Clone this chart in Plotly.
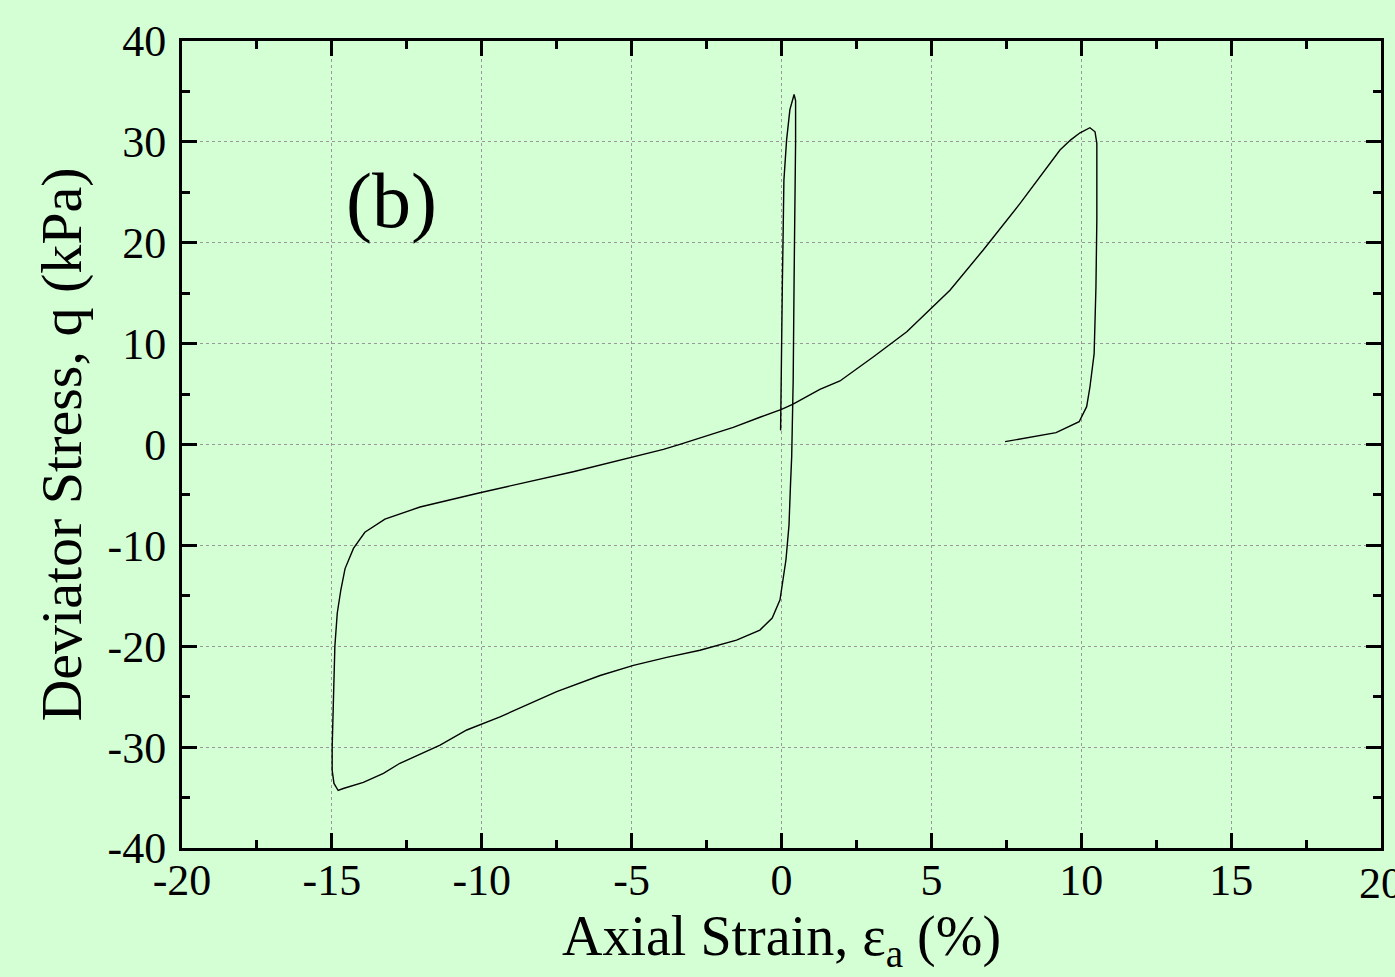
import plotly.graph_objects as go

# Axial strain (%) and deviator stress (kPa)
strain = [-0.03, -0.02, 0.0, 0.03, 0.05, 0.08, 0.17, 0.28, 0.42, 0.47, 0.47, 0.45, 0.42,
          0.39, 0.37, 0.34, 0.30, 0.25, 0.15, 0.06, -0.05, -0.31, -0.72, -1.5, -2.72,
          -3.83, -4.94, -6.05, -7.5, -9.39, -10.5, -11.39, -12.73, -13.28, -13.95, -14.62,
          -14.79, -14.93, -14.99, -14.99, -14.95, -14.9, -14.82, -14.7, -14.56, -14.28,
          -13.9, -13.23, -12.06, -10.06, -6.95, -5.05, -3.94, -3.39, -1.61, -0.72, 0.0,
          0.37, 1.28, 1.95, 3.07, 4.18, 4.95, 5.62, 6.73, 7.96, 9.29, 9.65, 9.96, 10.29,
          10.46, 10.52, 10.52, 10.49, 10.43, 10.29, 10.18, 9.93, 9.16, 7.46]
stress = [1.4, 5.0, 10.0, 16.3, 20.0, 26.2, 30.2, 33.2, 34.7, 34.1, 30.0, 26.2, 16.3,
          6.4, 3.0, -1.2, -4.0, -8.0, -11.4, -13.4, -15.4, -17.2, -18.4, -19.4, -20.4,
          -21.1, -21.9, -22.9, -24.5, -27.0, -28.3, -29.8, -31.6, -32.6, -33.5, -34.1,
          -34.3, -33.6, -32.3, -30.0, -25.0, -20.0, -16.7, -14.4, -12.3, -10.3,
          -8.7, -7.4, -6.2, -4.78, -2.7, -1.27, -0.48, 0.02, 1.7, 2.7, 3.49,
          3.98, 5.47, 6.3, 8.7, 11.18, 13.33, 15.3, 19.28, 23.9, 29.19, 30.2, 30.9, 31.4,
          31.0, 29.85, 22.25, 15.6, 9.0, 5.7, 3.75, 2.26, 1.17, 0.28]

x_ticks = [-20, -15, -10, -5, 0, 5, 10, 15, 20]
y_ticks = [-40, -30, -20, -10, 0, 10, 20, 30, 40]

BG = "#D4FFD4"
FONT = "Liberation Serif, Times New Roman, serif"

fig = go.Figure()
fig.add_trace(go.Scatter(x=strain, y=stress, mode="lines",
                         line=dict(color="black", width=1.4), showlegend=False,
                         hoverinfo="skip"))

axis_common = dict(
    showline=True, linecolor="black", linewidth=3, mirror="allticks",
    ticks="inside", ticklen=15, tickwidth=2.5, tickcolor="black",
    showgrid=True, gridcolor="#999999", griddash="dot", gridwidth=1.2,
    zeroline=False,
    tickfont=dict(family=FONT, size=44, color="black"),
)

fig.update_xaxes(
    range=[-20, 20], tickvals=x_ticks[:-1], ticktext=[str(v) for v in x_ticks[:-1]],
    minor=dict(dtick=2.5, ticks="inside", ticklen=8, tickwidth=2.5, tickcolor="black", showgrid=False),
    title=dict(text="Axial Strain, ε<sub>a</sub> (%)", font=dict(family=FONT, size=56, color="black"),
               standoff=0),
    ticklabelstandoff=-9,
    **axis_common,
)
fig.update_yaxes(
    range=[-40, 40], tickvals=y_ticks, ticktext=[str(v) for v in y_ticks],
    minor=dict(dtick=5, ticks="inside", ticklen=8, tickwidth=2.5, tickcolor="black", showgrid=False),
    title=dict(text="Deviator Stress, q (kPa)", font=dict(family=FONT, size=58, color="black"),
               standoff=8),
    ticklabelstandoff=4,
    **axis_common,
)

# last x tick label, partly cut by the page edge as in the reference
fig.add_annotation(x=x_ticks[-1], y=0, xref="x", yref="paper", yanchor="top", xanchor="center",
                   yshift=-9, text=str(x_ticks[-1]), showarrow=False,
                   font=dict(family=FONT, size=44, color="black"))

fig.add_annotation(x=-13.0, y=24.2, xref="x", yref="y", text="(b)", showarrow=False,
                   font=dict(family=FONT, size=78, color="black"))

fig.update_layout(
    width=1395, height=977,
    margin=dict(l=182, r=14, t=41, b=129),
    paper_bgcolor=BG, plot_bgcolor=BG,
)

fig.write_html("out.html")
